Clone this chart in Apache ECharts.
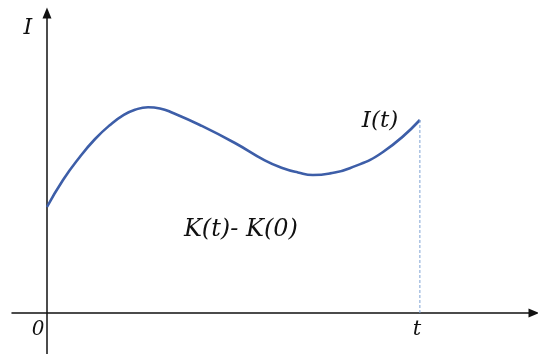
<!DOCTYPE html>
<html>
<head>
<meta charset="utf-8">
<script src="https://cdn.jsdelivr.net/npm/echarts@6/dist/echarts.min.js"></script>
<style>html,body{margin:0;padding:0;background:#fff}#c{width:538px;height:354px}</style>
</head>
<body>
<div id="c"></div>
<script>
// curve I(t): x values (time) and y values (I)
const curveX = [0, 4.3, 8.8, 12.9, 16.9, 20.4, 23.6, 27.1, 30.3, 33.8, 41, 50.4, 58.4, 63.3, 67.3, 71.3, 75.9, 81.2, 90.1, 100];
const curveY = [53, 66.5, 78, 87, 94, 98.8, 101.6, 102.9, 102.3, 100, 94, 85, 76.3, 72.4, 70.3, 69, 69.8, 72.4, 80.5, 96.5];
// dashed line at t
const tX = [100, 100];
const tY = [96.5, 0];
// text labels: [text, x, y]
const labelTexts = ['I', 'I(t)', 'K(t)- K(0)', '0', 't'];
const labelX = [-5.1, 89.3, 52, -2.4, 99.2];
const labelY = [142.5, 96, 41.5, -8.5, -8.5];
const labelSizes = [22, 23, 24, 20, 21];

const chart = echarts.init(document.getElementById('c'));
const axisCommon = {
  type: 'value',
  splitLine: {show: false},
  axisTick: {show: false},
  axisLabel: {show: false},
  axisLine: {show: true, onZero: true, symbol: ['none', 'triangle'], symbolSize: [9, 11],
    lineStyle: {color: '#111', width: 1.5}}
};
chart.setOption({
  animation: false,
  grid: {left: 12, right: 4, top: 13, bottom: 0},
  xAxis: Object.assign({}, axisCommon, {min: -9.38, max: 130.6}),
  yAxis: Object.assign({}, axisCommon, {min: -20.5, max: 150}),
  series: [
    {type: 'line', smooth: 0.5, symbol: 'none', data: curveX.map((x, i) => [x, curveY[i]]),
     lineStyle: {color: '#3d5ea8', width: 2.6}},
    {type: 'line', symbol: 'none', data: tX.map((x, i) => [x, tY[i]]),
     lineStyle: {color: '#7da3d4', width: 1, type: [3, 2]}}
  ]
});
const graphics = labelTexts.map((t, i) => {
  const p = chart.convertToPixel({gridIndex: 0}, [labelX[i], labelY[i]]);
  return {type: 'text', x: p[0], y: p[1], style: {text: t, font: 'italic ' + labelSizes[i] + 'px "DejaVu Serif"',
    fill: '#111', align: 'center', verticalAlign: 'middle'}};
});
chart.setOption({graphic: graphics});
</script>
</body>
</html>
